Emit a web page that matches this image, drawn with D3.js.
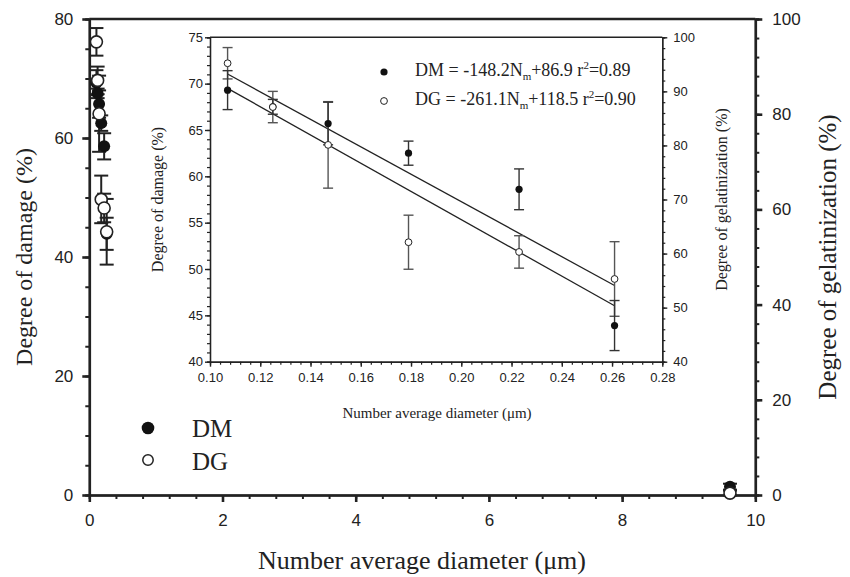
<!DOCTYPE html>
<html>
<head>
<meta charset="utf-8">
<script src="https://cdn.jsdelivr.net/npm/d3@7"></script>
<style>
  body { margin: 0; background: #fff; }
  svg { display: block; }
  .tick text { font-family: "Liberation Sans", Arial, sans-serif; fill: #222; }
  .title { font-family: "Liberation Serif", "Times New Roman", serif; fill: #222; }
</style>
</head>
<body>
<svg id="chart" width="850" height="577"></svg>
<script>
// Number average diameter (um)
const diameter = [0.107, 0.125, 0.147, 0.179, 0.223, 0.261, 9.62];
// Degree of damage (%), left axis
const dmValues = [69.3, 67.5, 65.7, 62.5, 58.6, 43.9, 1.4];
const dmErrors = [2.1, 0.8, 2.3, 1.3, 2.2, 2.7, 0.5];
// Degree of gelatinization (%), right axis
const dgValues = [95.2, 87.1, 80.1, 62.1, 60.3, 55.3, 0.4];
const dgErrors = [2.9, 2.9, 8.0, 5.0, 3.0, 6.9, 0.5];

// regression lines shown in the inset (slope, intercept) and fitted range
const dmFit = [-148.2, 86.9];
const dgFit = [-261.1, 118.5];
const fitRange = [0.107, 0.261];

const mainXTicks = [0, 2, 4, 6, 8, 10];
const mainLeftTicks = [0, 20, 40, 60, 80];
const mainRightTicks = [0, 20, 40, 60, 80, 100];
const insetXTicks = [0.10, 0.12, 0.14, 0.16, 0.18, 0.20, 0.22, 0.24, 0.26, 0.28];
const insetLeftTicks = [40, 45, 50, 55, 60, 65, 70, 75];
const insetRightTicks = [40, 50, 60, 70, 80, 90, 100];

const svg = d3.select("#chart");
const ink = "#222";

// ---------- main plot ----------
const x = d3.scaleLinear().domain([0, 10]).range([89.3, 755.3]);
const yL = d3.scaleLinear().domain([0, 80]).range([495, 19]);
const yR = d3.scaleLinear().domain([0, 100]).range([495, 19]);

function styleAxis(g, width) {
  g.select(".domain").attr("stroke", ink).attr("stroke-width", width);
  g.selectAll(".tick line").attr("stroke", ink).attr("stroke-width", width);
}

// minor ticks
const minorMain = svg.append("g");
minorMain.append("g").attr("transform", "translate(0,495)")
  .call(d3.axisBottom(x).tickValues(d3.range(0, 10.01, 0.4)).tickSize(4).tickFormat(""))
  .call(g => styleAxis(g, 2));
minorMain.append("g").attr("transform", "translate(89.3,0)")
  .call(d3.axisLeft(yL).tickValues(d3.range(0, 80.1, 5)).tickSize(4).tickFormat(""))
  .call(g => styleAxis(g, 2));
minorMain.append("g").attr("transform", "translate(755.3,0)")
  .call(d3.axisRight(yR).tickValues(d3.range(0, 100.1, 4)).tickSize(4).tickFormat(""))
  .call(g => styleAxis(g, 2));

svg.append("g").attr("transform", "translate(0,495)")
  .call(d3.axisBottom(x).tickValues(mainXTicks).tickSize(7).tickPadding(12).tickSizeOuter(0))
  .call(g => styleAxis(g, 2.6))
  .call(g => g.selectAll("text").attr("font-size", 17));
svg.append("g").attr("transform", "translate(89.3,0)")
  .call(d3.axisLeft(yL).tickValues(mainLeftTicks).tickSize(7).tickPadding(9).tickSizeOuter(0))
  .call(g => styleAxis(g, 2.6))
  .call(g => g.selectAll("text").attr("font-size", 17));
svg.append("g").attr("transform", "translate(755.3,0)")
  .call(d3.axisRight(yR).tickValues(mainRightTicks).tickSize(7).tickPadding(10).tickSizeOuter(0))
  .call(g => styleAxis(g, 2.6))
  .call(g => g.selectAll("text").attr("font-size", 17));
svg.append("line").attr("x1", x(0)).attr("x2", x(10)).attr("y1", yL(80)).attr("y2", yL(80))
  .attr("stroke", ink).attr("stroke-width", 2.6);

svg.append("text").attr("class", "title")
  .attr("transform", `translate(32,${(yL(0) + yL(80)) / 2}) rotate(-90)`)
  .attr("text-anchor", "middle").attr("font-size", 24)
  .text("Degree of damage (%)");
svg.append("text").attr("class", "title")
  .attr("transform", `translate(836,${(yL(0) + yL(80)) / 2}) rotate(-90)`)
  .attr("text-anchor", "middle").attr("font-size", 25)
  .text("Degree of gelatinization (%)");
svg.append("text").attr("class", "title")
  .attr("x", 422).attr("y", 569)
  .attr("text-anchor", "middle").attr("font-size", 26)
  .text("Number average diameter (\u03bcm)");

// error bars + points, main plot
function errorBars(g, xs, vals, errs, xS, yS, cap, color, width) {
  const data = xs.map((d, i) => ({ x: d, v: vals[i], e: errs[i] }));
  g.selectAll(null).data(data).enter().append("line")
    .attr("x1", d => xS(d.x)).attr("x2", d => xS(d.x))
    .attr("y1", d => yS(d.v - d.e)).attr("y2", d => yS(d.v + d.e))
    .attr("stroke", color).attr("stroke-width", width);
  [-1, 1].forEach(s => {
    g.selectAll(null).data(data).enter().append("line")
      .attr("x1", d => xS(d.x) - cap).attr("x2", d => xS(d.x) + cap)
      .attr("y1", d => yS(d.v + s * d.e)).attr("y2", d => yS(d.v + s * d.e))
      .attr("stroke", color).attr("stroke-width", width);
  });
}

const mainMarks = svg.append("g");
errorBars(mainMarks, diameter, dmValues, dmErrors, x, yL, 7, ink, 2);
errorBars(mainMarks, diameter, dgValues, dgErrors, x, yR, 7, ink, 2);
mainMarks.selectAll(".dm").data(diameter).enter().append("circle")
  .attr("cx", d => x(d)).attr("cy", (d, i) => yL(dmValues[i])).attr("r", 6)
  .attr("fill", "#111");
mainMarks.selectAll(".dg").data(diameter).enter().append("circle")
  .attr("cx", d => x(d)).attr("cy", (d, i) => yR(dgValues[i])).attr("r", 6)
  .attr("fill", "#fff").attr("stroke", ink).attr("stroke-width", 1.6);

// legend
const legend = svg.append("g").attr("transform", "translate(148,428)");
legend.append("circle").attr("r", 6.3).attr("fill", "#111");
legend.append("circle").attr("cy", 32).attr("r", 5.2).attr("fill", "#fff")
  .attr("stroke", ink).attr("stroke-width", 1.5);
legend.append("text").attr("class", "title").attr("x", 44).attr("y", 9).attr("font-size", 25).text("DM");
legend.append("text").attr("class", "title").attr("x", 44).attr("y", 42).attr("font-size", 25).text("DG");

// ---------- inset ----------
const ix = d3.scaleLinear().domain([0.10, 0.28]).range([210, 662.3]);
const iyL = d3.scaleLinear().domain([40, 75]).range([361.7, 37.3]);
const iyR = d3.scaleLinear().domain([40, 100]).range([361.7, 37.3]);

const inset = svg.append("g");
inset.append("rect").attr("x", 210).attr("y", 37.3).attr("width", 452.3).attr("height", 324.4)
  .attr("fill", "#fff");

inset.append("g").attr("transform", "translate(0,361.7)")
  .call(d3.axisBottom(ix).tickValues(d3.range(0.10, 0.2801, 0.004)).tickSize(3).tickFormat(""))
  .call(g => styleAxis(g, 1.2));
inset.append("g").attr("transform", "translate(210,0)")
  .call(d3.axisLeft(iyL).tickValues(d3.range(40, 75.1, 1)).tickSize(3).tickFormat(""))
  .call(g => styleAxis(g, 1.2));
inset.append("g").attr("transform", "translate(662.3,0)")
  .call(d3.axisRight(iyR).tickValues(d3.range(40, 100.1, 2)).tickSize(3).tickFormat(""))
  .call(g => styleAxis(g, 1.2));

inset.append("g").attr("transform", "translate(0,361.7)")
  .call(d3.axisBottom(ix).tickValues(insetXTicks).tickSize(5).tickPadding(6).tickSizeOuter(0)
    .tickFormat(d3.format(".2f")))
  .call(g => styleAxis(g, 1.4))
  .call(g => g.selectAll("text").attr("font-size", 13));
inset.append("g").attr("transform", "translate(210,0)")
  .call(d3.axisLeft(iyL).tickValues(insetLeftTicks).tickSize(5).tickPadding(2).tickSizeOuter(0))
  .call(g => styleAxis(g, 1.4))
  .call(g => g.selectAll("text").attr("font-size", 13));
inset.append("g").attr("transform", "translate(662.3,0)")
  .call(d3.axisRight(iyR).tickValues(insetRightTicks).tickSize(5).tickPadding(6).tickSizeOuter(0))
  .call(g => styleAxis(g, 1.4))
  .call(g => g.selectAll("text").attr("font-size", 13));
inset.append("line").attr("x1", 210).attr("x2", 662.3).attr("y1", 37.3).attr("y2", 37.3)
  .attr("stroke", ink).attr("stroke-width", 1.4);

inset.append("text").attr("class", "title")
  .attr("transform", `translate(163,${(iyL(40) + iyL(75)) / 2}) rotate(-90)`)
  .attr("text-anchor", "middle").attr("font-size", 16).text("Degree of damage (%)");
inset.append("text").attr("class", "title")
  .attr("transform", `translate(727,${(iyL(40) + iyL(75)) / 2}) rotate(-90)`)
  .attr("text-anchor", "middle").attr("font-size", 16).text("Degree of gelatinization (%)");
inset.append("text").attr("class", "title")
  .attr("x", 437).attr("y", 418)
  .attr("text-anchor", "middle").attr("font-size", 15).text("Number average diameter (\u03bcm)");

// regression lines
inset.append("line")
  .attr("x1", ix(fitRange[0])).attr("y1", iyL(dmFit[0] * fitRange[0] + dmFit[1]))
  .attr("x2", ix(fitRange[1])).attr("y2", iyL(dmFit[0] * fitRange[1] + dmFit[1]))
  .attr("stroke", ink).attr("stroke-width", 1.3);
inset.append("line")
  .attr("x1", ix(fitRange[0])).attr("y1", iyR(dgFit[0] * fitRange[0] + dgFit[1]))
  .attr("x2", ix(fitRange[1])).attr("y2", iyR(dgFit[0] * fitRange[1] + dgFit[1]))
  .attr("stroke", ink).attr("stroke-width", 1.3);

const inX = diameter.slice(0, 6);
const insetMarks = inset.append("g");
errorBars(insetMarks, inX, dgValues.slice(0, 6), dgErrors.slice(0, 6), ix, iyR, 5, "#555", 1.4);
errorBars(insetMarks, inX, dmValues.slice(0, 6), dmErrors.slice(0, 6), ix, iyL, 5, "#333", 1.4);
insetMarks.selectAll(".idm").data(inX).enter().append("circle")
  .attr("cx", d => ix(d)).attr("cy", (d, i) => iyL(dmValues[i])).attr("r", 3.6)
  .attr("fill", "#111");
insetMarks.selectAll(".idg").data(inX).enter().append("circle")
  .attr("cx", d => ix(d)).attr("cy", (d, i) => iyR(dgValues[i])).attr("r", 3.4)
  .attr("fill", "#fff").attr("stroke", ink).attr("stroke-width", 1);

// equations
const eq = inset.append("g").attr("transform", "translate(384,72)");
eq.append("circle").attr("r", 3.6).attr("fill", "#111");
eq.append("circle").attr("cy", 29).attr("r", 3.4).attr("fill", "#fff").attr("stroke", ink).attr("stroke-width", 1);
function equation(y, lead, tail, r2) {
  const t = eq.append("text").attr("class", "title").attr("x", 31).attr("y", y).attr("font-size", 18);
  t.append("tspan").text(lead + "N");
  t.append("tspan").attr("dy", 4).attr("font-size", 11).text("m");
  t.append("tspan").attr("dy", -4).text(tail + " r");
  t.append("tspan").attr("dy", -7).attr("font-size", 11).text("2");
  t.append("tspan").attr("dy", 7).text("=" + r2);
}
equation(4, "DM = -148.2", "+86.9", "0.89");
equation(33, "DG = -261.1", "+118.5", "0.90");
</script>
</body>
</html>
